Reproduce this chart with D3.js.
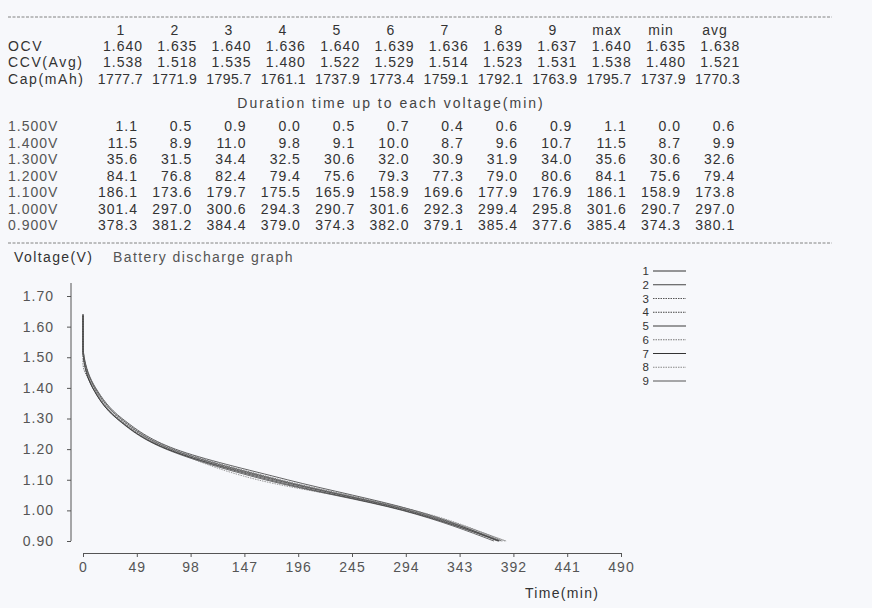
<!DOCTYPE html>
<html>
<head>
<meta charset="utf-8">
<script src="https://cdn.jsdelivr.net/npm/d3@7"></script>
<style>
  body { margin: 0; background: #f7f8fb; }
  svg text { font-family: "Liberation Sans", Arial, sans-serif; font-size: 14px; letter-spacing: 1px; fill: #333; }
</style>
</head>
<body>
<svg id="sheet" width="872" height="608"></svg>
<script>
const batteryIds = ["1", "2", "3", "4", "5", "6", "7", "8", "9"];
const statHeads = ["max", "min", "avg"];

const ocv = [1.640, 1.635, 1.640, 1.636, 1.640, 1.639, 1.636, 1.639, 1.637];
const ocvStats = [1.640, 1.635, 1.638];
const ccv = [1.538, 1.518, 1.535, 1.480, 1.522, 1.529, 1.514, 1.523, 1.531];
const ccvStats = [1.538, 1.480, 1.521];
const capacity = [1777.7, 1771.9, 1795.7, 1761.1, 1737.9, 1773.4, 1759.1, 1792.1, 1763.9];
const capStats = [1795.7, 1737.9, 1770.3];

const cutoffLevels = [1.5, 1.4, 1.3, 1.2, 1.1, 1.0, 0.9];
const t1500 = [1.1, 0.5, 0.9, 0.0, 0.5, 0.7, 0.4, 0.6, 0.9];
const t1400 = [11.5, 8.9, 11.0, 9.8, 9.1, 10.0, 8.7, 9.6, 10.7];
const t1300 = [35.6, 31.5, 34.4, 32.5, 30.6, 32.0, 30.9, 31.9, 34.0];
const t1200 = [84.1, 76.8, 82.4, 79.4, 75.6, 79.3, 77.3, 79.0, 80.6];
const t1100 = [186.1, 173.6, 179.7, 175.5, 165.9, 158.9, 169.6, 177.9, 176.9];
const t1000 = [301.4, 297.0, 300.6, 294.3, 290.7, 301.6, 292.3, 299.4, 295.8];
const t0900 = [378.3, 381.2, 384.4, 379.0, 374.3, 382.0, 379.1, 385.4, 377.6];
const durationStats = [
    [1.1, 0.0, 0.6], [11.5, 8.7, 9.9], [35.6, 30.6, 32.6], [84.1, 75.6, 79.4],
    [186.1, 158.9, 173.8], [301.6, 290.7, 297.0], [385.4, 374.3, 380.1]
];

const timeTicks = [0, 49, 98, 147, 196, 245, 294, 343, 392, 441, 490];
const voltTicks = [0.9, 1.0, 1.1, 1.2, 1.3, 1.4, 1.5, 1.6, 1.7];

const durations = [t1500, t1400, t1300, t1200, t1100, t1000, t0900];

const svg = d3.select("#sheet");
const f3 = d3.format(".3f");
const f1 = d3.format(".1f");

// table columns
const headX = i => 121 + 54 * i;
const upperX = i => 143 + 54.3 * i;
const lowerX = i => 138 + 54.3 * i;

const sep = (y) => svg.append("line")
    .attr("x1", 8).attr("x2", 832).attr("y1", y).attr("y2", y)
    .attr("stroke", "#666").attr("stroke-width", 0.8)
    .attr("stroke-dasharray", "3,1.5");
sep(17);
sep(243);

const table = svg.append("g").attr("class", "table");

table.selectAll(".head")
    .data(batteryIds.concat(statHeads))
    .enter().append("text")
    .attr("x", (d, i) => headX(i))
    .attr("y", 30)
    .attr("dominant-baseline", "central")
    .attr("text-anchor", "middle")
    .text(d => d);

const upperRows = [
    { label: "OCV", values: ocv.concat(ocvStats), fmt: f3, y: 46 },
    { label: "CCV(Avg)", values: ccv.concat(ccvStats), fmt: f3, y: 62 },
    { label: "Cap(mAh)", values: capacity.concat(capStats), fmt: f1, y: 79 }
];

upperRows.forEach(row => {
    table.append("text")
        .attr("x", 8).attr("y", row.y)
        .attr("dominant-baseline", "central")
        .style("letter-spacing", "1.6px")
        .text(row.label);
    table.selectAll(null)
        .data(row.values)
        .enter().append("text")
        .attr("x", (d, i) => upperX(i))
        .attr("y", row.y)
        .attr("dominant-baseline", "central")
        .attr("text-anchor", "end")
        .style("letter-spacing", row.label === "Cap(mAh)" ? "0.4px" : null)
        .text(d => row.fmt(d));
});

table.append("text")
    .attr("x", 391).attr("y", 103)
    .attr("dominant-baseline", "central")
    .attr("text-anchor", "middle")
    .style("letter-spacing", "2px")
    .style("fill", "#444")
    .text("Duration time up to each voltage(min)");

cutoffLevels.forEach((v, k) => {
    const y = 126 + k * 16.5;
    table.append("text")
        .attr("x", 8).attr("y", y)
        .attr("dominant-baseline", "central")
        .style("fill", "#555")
        .text(f3(v) + "V");
    table.selectAll(null)
        .data(durations[k].concat(durationStats[k]))
        .enter().append("text")
        .attr("x", (d, i) => lowerX(i))
        .attr("y", y)
        .attr("dominant-baseline", "central")
        .attr("text-anchor", "end")
        .text(d => f1(d));
});

// discharge graph
const x = d3.scaleLinear().domain([0, 490]).range([83, 621]);
const y = d3.scaleLinear().domain([0.9, 1.7]).range([541, 296]);

svg.append("text")
    .attr("x", 14).attr("y", 257)
    .attr("dominant-baseline", "central")
    .style("letter-spacing", "1.4px")
    .text("Voltage(V)");
svg.append("text")
    .attr("x", 113).attr("y", 257)
    .attr("dominant-baseline", "central")
    .style("letter-spacing", "1.4px")
    .style("fill", "#555")
    .text("Battery discharge graph");

const yAxis = svg.append("g")
    .attr("transform", "translate(71,0)")
    .call(d3.axisLeft(y).tickValues(voltTicks).tickFormat(d3.format(".2f"))
        .tickSize(4).tickPadding(13));
yAxis.select(".domain").remove();
yAxis.append("line")
    .attr("y1", y(1.7) - 13).attr("y2", y(0.9))
    .attr("stroke", "#555");

const xAxis = svg.append("g")
    .attr("transform", "translate(0,553)")
    .call(d3.axisBottom(x).tickValues(timeTicks).tickSize(4).tickSizeOuter(0).tickPadding(5));

[yAxis, xAxis].forEach(g => {
    g.selectAll(".tick line").attr("stroke", "#555");
    g.selectAll(".domain").attr("stroke", "#555");
    g.selectAll("text").style("font-size", "14px").style("fill", "#555")
        .attr("font-family", null);
});

svg.append("text")
    .attr("x", 525).attr("y", 593)
    .attr("dominant-baseline", "central")
    .style("letter-spacing", "1.3px")
    .text("Time(min)");

const lineStyles = [
    { stroke: "#333", dash: null },
    { stroke: "#444", dash: null },
    { stroke: "#555", dash: "1.5,1" },
    { stroke: "#444", dash: "1.5,1" },
    { stroke: "#3a3a3a", dash: null },
    { stroke: "#777", dash: "1.5,1" },
    { stroke: "#333", dash: null },
    { stroke: "#888", dash: "1.5,1" },
    { stroke: "#555", dash: null }
];

const series = batteryIds.map((id, j) => {
    const pts = [[0, ocv[j]], [0, ccv[j]]];
    cutoffLevels.forEach((v, k) => {
        if (v < ccv[j]) pts.push([durations[k][j], v]);
    });
    return { id, pts, style: lineStyles[j] };
});

const line = d3.line()
    .x(d => x(d[0]))
    .y(d => y(d[1]))
    .curve(d3.curveMonotoneY);

svg.append("g").selectAll("path")
    .data(series)
    .enter().append("path")
    .attr("d", d => line(d.pts))
    .attr("fill", "none")
    .attr("stroke", d => d.style.stroke)
    .attr("stroke-width", 1)
    .attr("stroke-opacity", 0.75)
    .attr("stroke-dasharray", d => d.style.dash);

// legend
const legend = svg.append("g").selectAll("g")
    .data(series)
    .enter().append("g")
    .attr("transform", (d, i) => `translate(0,${271 + i * 13.75})`);

legend.append("text")
    .attr("x", 650).attr("y", 0)
    .attr("dominant-baseline", "central")
    .attr("text-anchor", "end")
    .style("font-size", "11.5px")
    .text(d => d.id);

legend.append("line")
    .attr("x1", 653).attr("x2", 686)
    .attr("stroke", d => d.style.stroke)
    .attr("stroke-width", 1)
    .attr("stroke-dasharray", d => d.style.dash);
</script>
</body>
</html>
